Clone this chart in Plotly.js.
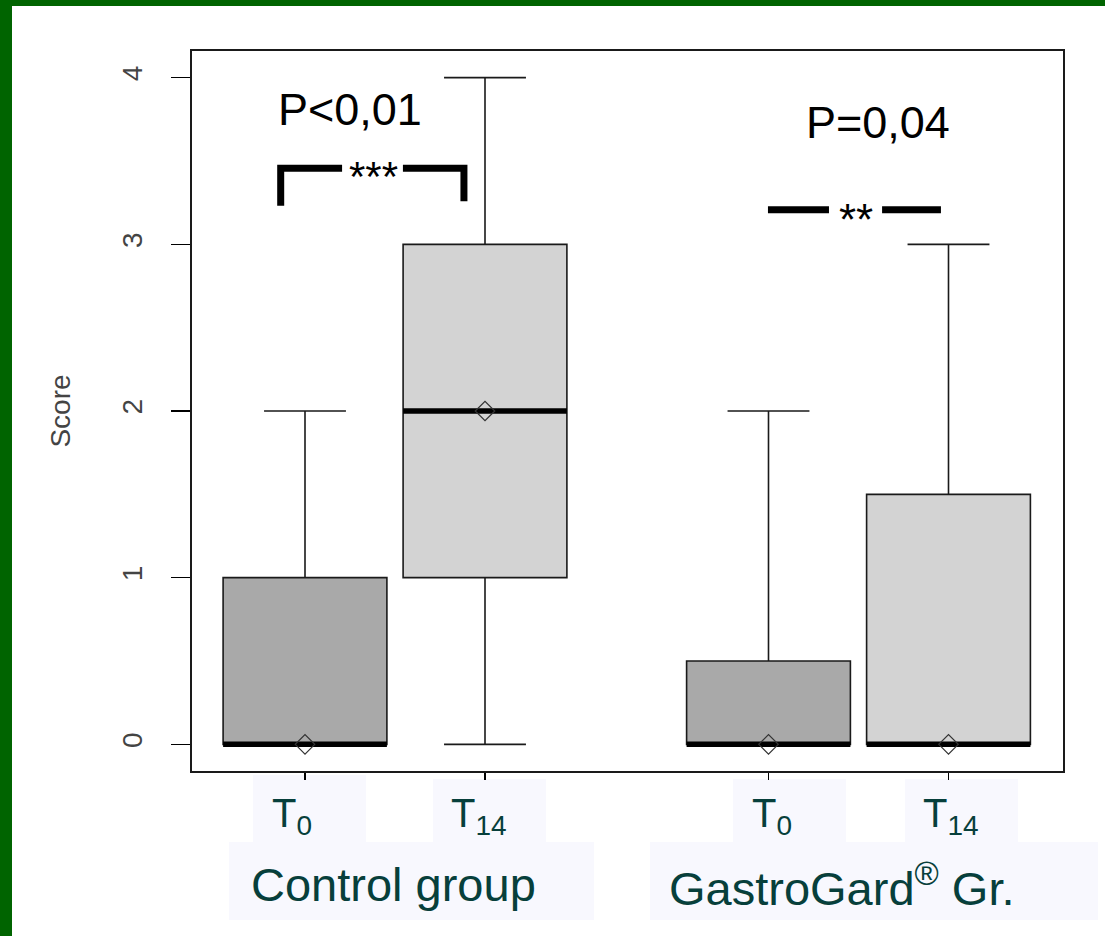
<!DOCTYPE html>
<html>
<head>
<meta charset="utf-8">
<script src="https://cdn.plot.ly/plotly-3.0.1.min.js"></script>
<style>
  html, body { margin: 0; padding: 0; background: #ffffff; }
  #wrap { position: relative; width: 1105px; height: 936px; overflow: hidden; }
  #chart { position: absolute; left: 0; top: 0; width: 1105px; height: 936px; }
  .frame-top { position: absolute; left: 0; top: 0; width: 1105px; height: 6px; background: #006400; z-index: 5; }
  .frame-left { position: absolute; left: 0; top: 0; width: 12px; height: 936px; background: #006400; z-index: 5; }
</style>
</head>
<body>
<div id="wrap">
  <div id="chart"></div>
  <div class="frame-top"></div>
  <div class="frame-left"></div>
</div>
<script>
// ---------------- DATA ----------------
const groups      = ['Control group', 'GastroGard<sup>®</sup> Gr.'];
const timeLabels  = ['T<sub>0</sub>', 'T<sub>14</sub>', 'T<sub>0</sub>', 'T<sub>14</sub>'];
const positions   = [1, 2, 3.575, 4.575];
const lowerFence  = [0, 0, 0, 0];
const q1Vals      = [0, 1, 0, 0];
const medianVals  = [0, 2, 0, 0];
const q3Vals      = [1, 3, 0.5, 1.5];
const upperFence  = [2, 4, 2, 3];
const meanVals    = [0, 2, 0, 0];
const pTexts      = ['P<0,01', 'P=0,04'];
const starTexts   = ['***', '**'];
const yTicks      = [0, 1, 2, 3, 4];

// ---------------- STYLE ----------------
const FONT = 'Liberation Sans, Arial, Helvetica, sans-serif';
const TEAL = '#073f3b';
const boxW = 0.91;
const darkFill = '#a9a9a9', lightFill = '#d3d3d3';
const idxT0 = [0, 2], idxT14 = [1, 3];
const pick = (arr, idx) => idx.map(i => arr[i]);

function boxTrace(idx, fill, name) {
  return {
    type: 'box', name: name,
    x: pick(positions, idx),
    q1: pick(q1Vals, idx), median: pick(medianVals, idx), q3: pick(q3Vals, idx),
    lowerfence: pick(lowerFence, idx), upperfence: pick(upperFence, idx),
    width: boxW, whiskerwidth: 0.5,
    fillcolor: fill,
    line: { color: '#1a1a1a', width: 1.6 },
    boxpoints: false, hoverinfo: 'skip', showlegend: false
  };
}

// Thick median lines built from the data
const medX = [], medY = [];
positions.forEach((p, i) => { medX.push(p - boxW / 2, p + boxW / 2, null); medY.push(medianVals[i], medianVals[i], null); });

const traces = [
  boxTrace(idxT0, darkFill, 'T0'),
  boxTrace(idxT14, lightFill, 'T14'),
  { type: 'scatter', mode: 'lines', x: medX, y: medY, line: { color: '#000', width: 5.5 }, hoverinfo: 'skip', showlegend: false },
  { type: 'scatter', mode: 'markers', x: positions, y: meanVals,
    marker: { symbol: 'diamond-open', size: 15, color: '#333', line: { width: 1.2 } }, hoverinfo: 'skip', showlegend: false }
];

// ---------------- OVERLAY GEOMETRY (slide labels / brackets) ----------------
const shapes = [];
const annotations = [];
const PX0 = 192, PW = 871;              // plot area left edge / width in px
const px2paper = v => (v - PX0) / PW;

// label panels below the axis (paper x, from the slide layout)
const tPanelX   = [[253, 366], [433, 546], [733, 846], [905, 1018]];
const tPanelTop = [-0.0056, -0.011, -0.011, -0.011];
const tTextOff  = [-0.072, -0.033, 0.02, 0.012];
positions.forEach((p, i) => {
  shapes.push({ type: 'rect', xref: 'paper', yref: 'paper', x0: px2paper(tPanelX[i][0]), x1: px2paper(tPanelX[i][1]),
    y0: tPanelTop[i], y1: -0.0986, fillcolor: '#f8f8fe', line: { width: 0 }, layer: 'below' });
  annotations.push({ xref: 'x', yref: 'paper', x: p + tTextOff[i], y: -0.062, yanchor: 'middle', xanchor: 'center',
    text: timeLabels[i], showarrow: false, font: { family: FONT, size: 40, color: TEAL } });
});
const groupCenter = [(positions[0] + positions[1]) / 2, (positions[2] + positions[3]) / 2];
const gPanelX = [[229, 594], [650, 1098]];
const gTextOff = [-0.008, -0.089];
groups.forEach((g, i) => {
  shapes.push({ type: 'rect', xref: 'paper', yref: 'paper', x0: px2paper(gPanelX[i][0]), x1: px2paper(gPanelX[i][1]),
    y0: -0.0986, y1: -0.2069, fillcolor: '#f8f8fe', line: { width: 0 }, layer: 'below' });
  annotations.push({ xref: 'x', yref: 'paper', x: groupCenter[i] + gTextOff[i], y: -0.158, yanchor: 'middle', xanchor: 'center',
    text: g, showarrow: false, font: { family: FONT, size: 47, color: TEAL } });
});

// significance brackets
const br = { color: '#000', width: 7 };
shapes.push({ type: 'path', xref: 'x', yref: 'y', path: 'M 0.865 3.232 L 0.865 3.457 L 1.206 3.457', line: br });
shapes.push({ type: 'path', xref: 'x', yref: 'y', path: 'M 1.544 3.457 L 1.883 3.457 L 1.883 3.258', line: br });
shapes.push({ type: 'line', xref: 'x', yref: 'y', x0: 3.572, x1: 3.911, y0: 3.208, y1: 3.208, line: br });
shapes.push({ type: 'line', xref: 'x', yref: 'y', x0: 4.206, x1: 4.533, y0: 3.208, y1: 3.208, line: br });

annotations.push({ xref: 'x', yref: 'y', x: 1.25, y: 3.808, text: pTexts[0], showarrow: false, xanchor: 'center', yanchor: 'middle',
  font: { family: FONT, size: 45, color: '#000' } });
annotations.push({ xref: 'x', yref: 'y', x: 4.183, y: 3.73, text: pTexts[1], showarrow: false, xanchor: 'center', yanchor: 'middle',
  font: { family: FONT, size: 45, color: '#000' } });
annotations.push({ xref: 'x', yref: 'y', x: 1.383, y: 3.41, text: starTexts[0], showarrow: false, xanchor: 'center', yanchor: 'middle',
  font: { family: FONT, size: 42, color: '#000' } });
annotations.push({ xref: 'x', yref: 'y', x: 4.06, y: 3.15, text: starTexts[1], showarrow: false, xanchor: 'center', yanchor: 'middle',
  font: { family: FONT, size: 44, color: '#000' } });

const layout = {
  width: 1105, height: 936,
  margin: { l: 192, r: 42, t: 51, b: 165, pad: 0 },
  paper_bgcolor: '#ffffff', plot_bgcolor: '#ffffff',
  showlegend: false, boxmode: 'overlay',
  font: { family: FONT },
  xaxis: {
    range: [0.3722, 5.2111], tickmode: 'array', tickvals: positions, showticklabels: false,
    ticks: 'outside', ticklen: 7, tickwidth: 1.6, tickcolor: '#000',
    showline: true, mirror: true, linecolor: '#1a1a1a', linewidth: 1.6,
    showgrid: false, zeroline: false
  },
  yaxis: {
    range: [-0.16, 4.16], tickmode: 'array', tickvals: yTicks, ticktext: yTicks.map(String),
    ticks: 'outside', ticklen: 19, tickwidth: 1.6, tickcolor: '#000',
    tickangle: -90, tickfont: { family: FONT, size: 28, color: '#444' }, ticklabelstandoff: 18,
    showline: true, mirror: true, linecolor: '#1a1a1a', linewidth: 1.6,
    showgrid: false, zeroline: false,
    title: { text: 'Score', font: { family: FONT, size: 28, color: '#444' }, standoff: 38 }
  },
  shapes: shapes,
  annotations: annotations
};

Plotly.newPlot('chart', traces, layout, { displayModeBar: false, staticPlot: true });
</script>
</body>
</html>
